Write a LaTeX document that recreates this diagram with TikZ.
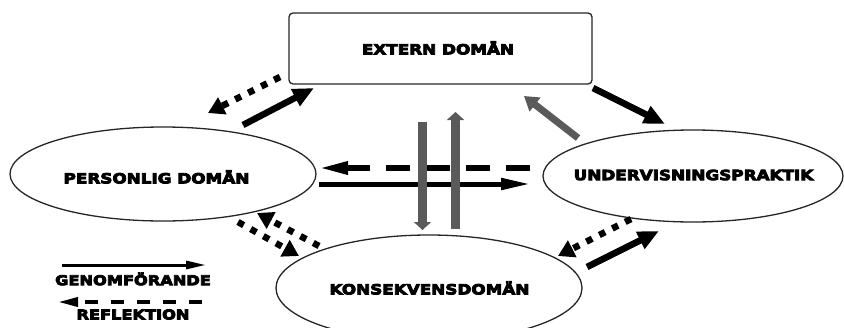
\documentclass[tikz,border=0pt]{standalone}
\usepackage{fontspec}
\newfontfamily\labfont{DejaVu Sans}[BoldFeatures={FakeBold=6,FakeStretch=1.2}]
\usetikzlibrary{arrows.meta,shapes.geometric}
\definecolor{gr}{HTML}{5A5A5A}
\definecolor{ln}{HTML}{262626}
\begin{document}
\begin{tikzpicture}[x=1pt,y=-1pt,
  lab/.style={font=\labfont\bfseries\fontsize{14}{14}\selectfont, text=black, inner sep=0pt},
  leglab/.style={font=\labfont\bfseries\fontsize{13.5}{14}\selectfont, text=black, inner sep=0pt},
  dom/.style={draw=ln, line width=1.3pt, ellipse, inner sep=0pt},
  ext/.style={draw=ln, line width=1.3pt, rectangle, rounded corners=4pt, inner sep=0pt},
  solidarr/.style={draw=black, line width=6.5pt, -{Triangle[length=21pt,width=18pt]}},
  dotarr/.style={draw=black, line width=6.5pt, dash pattern=on 6.5pt off 8pt, -{Triangle[length=16pt,width=18pt]}},
  grayarr/.style={draw=gr, line width=7pt, -{Triangle[length=14pt,width=17pt]}},
  hsolid/.style={draw=black, line width=5pt, -{Triangle[length=30pt,width=11pt]}},
  hdash/.style={draw=black, line width=6pt, dash pattern=on 24pt off 16pt, -{Triangle[length=30pt,width=12pt]}},
  vgray/.style={draw=gr, line width=8.5pt, -{Triangle[length=8pt,width=17pt]}},
  legsolid/.style={draw=black, line width=3pt, -{Triangle[length=20pt,width=8pt]}},
  legdash/.style={draw=black, line width=3.5pt, dash pattern=on 13pt off 13pt, -{Triangle[length=20pt,width=9pt]}}
]
\useasboundingbox (0,0) rectangle (844,327);
\fill[white] (0,0) rectangle (844,327);
\clip (0,0) rectangle (844,327);

% domains
\node[ext, minimum width=303pt, minimum height=71pt] (E) at (440.5,48.5) {};
\node[lab] (Et) at (438,48) {EXTERN DOMÄN};
\node[dom, minimum width=306pt, minimum height=94pt] (P) at (163,174) {};
\node[lab] (Pt) at (156.5,177) {PERSONLIG DOMÄN};
\node[dom, minimum width=300pt, minimum height=92pt] (U) at (693,176) {};
\node[lab] (Ut) at (693.5,175) {UNDERVISNINGSPRAKTIK};
\node[dom, minimum width=306pt, minimum height=106pt] (K) at (429,288) {};
\node[lab] (Kt) at (429.5,288) {KONSEKVENSDOMÄN};

% arrow end points
\coordinate (a1s) at (280,77);   \coordinate (a1e) at (208,113);
\coordinate (a2s) at (243,125);  \coordinate (a2e) at (314,88);
\coordinate (a3s) at (593,88);   \coordinate (a3e) at (665,124);
\coordinate (a4s) at (578,138);  \coordinate (a4e) at (524,96);
\coordinate (a5s) at (530,168);  \coordinate (a5e) at (318,168);
\coordinate (a6s) at (319,184);  \coordinate (a6e) at (531,184);
\coordinate (a7s) at (422.5,122);\coordinate (a7e) at (422.5,230);
\coordinate (a8s) at (455.5,229);\coordinate (a8e) at (455.5,112);
\coordinate (a9s) at (319,246);  \coordinate (a9e) at (257,213);
\coordinate (a10s) at (238,222); \coordinate (a10e) at (299,256);
\coordinate (a11s) at (631,219); \coordinate (a11e) at (558,256);
\coordinate (a12s) at (587,267); \coordinate (a12e) at (659,231);

\draw[dotarr] (a1s) -- (a1e);
\draw[solidarr] (a2s) -- (a2e);
\draw[solidarr] (a3s) -- (a3e);
\draw[grayarr] (a4s) -- (a4e);
\draw[hdash] (a5s) -- (a5e);
\draw[hsolid] (a6s) -- (a6e);
\draw[vgray] (a7s) -- (a7e);
\draw[vgray] (a8s) -- (a8e);
\draw[dotarr] (a9s) -- (a9e);
\draw[dotarr] (a10s) -- (a10e);
\draw[dotarr] (a11s) -- (a11e);
\draw[solidarr] (a12s) -- (a12e);

% legend
\coordinate (l1s) at (62,265);  \coordinate (l1e) at (206,265);
\coordinate (l2s) at (202,302); \coordinate (l2e) at (58,302);
\draw[legsolid] (l1s) -- (l1e);
\node[leglab] (L1) at (133,279) {GENOMFÖRANDE};
\draw[legdash] (l2s) -- (l2e);
\node[leglab] (L2) at (133,314.5) {REFLEKTION};
\end{tikzpicture}
\end{document}
